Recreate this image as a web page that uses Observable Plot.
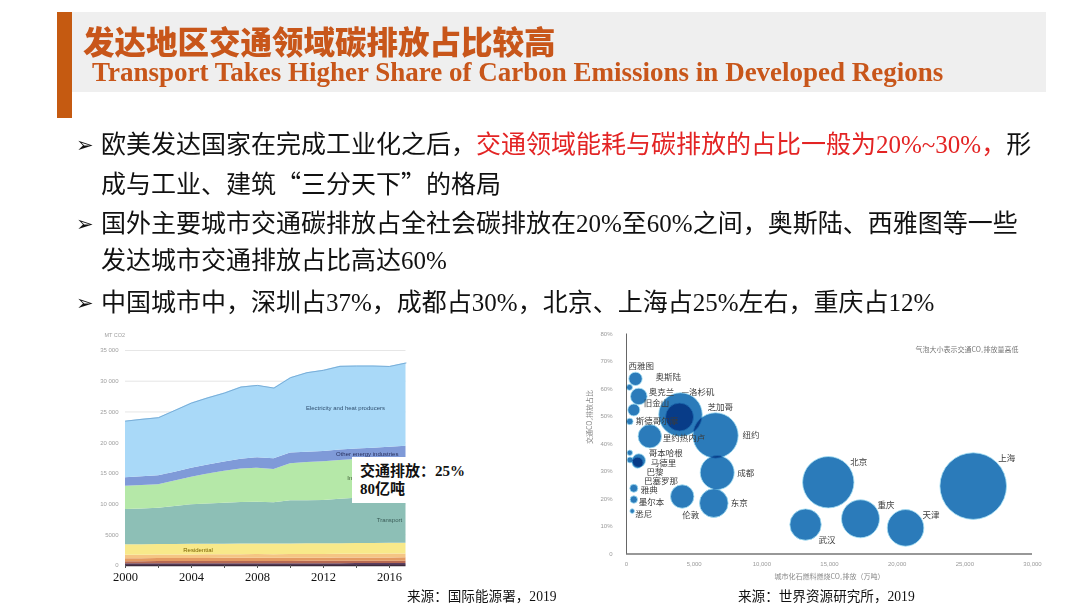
<!DOCTYPE html>
<html><head><meta charset="utf-8">
<script src="https://cdn.jsdelivr.net/npm/d3@7"></script>
<script src="https://cdn.jsdelivr.net/npm/@observablehq/plot@0.6"></script>
<style>
html,body{margin:0;padding:0;background:#fff;}
body{width:1080px;height:607px;position:relative;overflow:hidden;font-family:"Liberation Serif","Noto Sans CJK SC",serif;}
.abs{position:absolute;white-space:nowrap;}
#bar{left:57px;top:12px;width:15px;height:106px;background:#c55a11;}
#band{left:72px;top:12px;width:974px;height:80px;background:#efefef;}
#t1{left:83px;top:19px;font-family:"Noto Sans CJK SC";font-weight:900;font-size:31.5px;line-height:42px;color:#c8561a;}
#t2{left:92px;top:58px;font-family:"Liberation Serif";font-weight:bold;font-size:27px;line-height:28px;color:#c8561a;}
.line{left:101px;font-size:25px;line-height:30px;color:#111;}
.cjk{font-family:"Noto Sans CJK SC";}
.red{color:#e32424;}
.arrow{left:76px;font-family:"DejaVu Sans";font-size:21px;line-height:30px;color:#111;}
#note{left:352px;top:457px;width:118px;height:46px;background:#fff;padding:5px 0 0 8px;box-sizing:border-box;font-weight:bold;font-size:15px;line-height:18px;color:#111;}
.src{font-size:13.6px;line-height:20px;color:#111;}
</style>
</head><body>
<div class="abs" id="bar"></div>
<div class="abs" id="band"></div>
<div class="abs" id="t1">发达地区交通领域碳排放占比较高</div>
<div class="abs" id="t2">Transport Takes Higher Share of Carbon Emissions in Developed Regions</div>

<div class="abs arrow" style="top:130px">➢</div>
<div class="abs line" style="top:130px">欧美发达国家在完成工业化之后，<span class="red">交通领域能耗与碳排放的占比一般为20%~30%，</span>形</div>
<div class="abs line" style="top:167px">成与工业、建筑<span class="cjk">“</span>三分天下<span class="cjk">”</span>的格局</div>
<div class="abs arrow" style="top:209px">➢</div>
<div class="abs line" style="top:209px">国外主要城市交通碳排放占全社会碳排放在20%至60%之间，奥斯陆、西雅图等一些</div>
<div class="abs line" style="top:246px">发达城市交通排放占比高达60%</div>
<div class="abs arrow" style="top:288px">➢</div>
<div class="abs line" style="top:288px">中国城市中，深圳占37%，成都占30%，北京、上海占25%左右，重庆占12%</div>

<div class="abs" id="left" style="left:100px;top:325px"></div>
<div class="abs" id="right" style="left:580px;top:325px"></div>
<div class="abs" id="note">交通排放：25%<br>80亿吨</div>
<div class="abs src" style="left:407px;top:587px">来源：国际能源署，2019</div>
<div class="abs src" style="left:738px;top:587px">来源：世界资源研究所，2019</div>

<script>
// ---------- Left chart data (IEA, MtCO2) ----------
const years = [2000,2001,2002,2003,2004,2005,2006,2007,2008,2009,2010,2011,2012,2013,2014,2015,2016,2017];
const sectors = ["Final consumption n.e.s.","Fishing","Agriculture/forestry","Commercial and public services","Residential","Transport","Industry","Other energy industries","Electricity and heat producers"];
const finalNes    = [280,280,285,285,290,290,295,295,300,295,300,300,305,305,310,310,310,315];
const fishing     = [350,350,355,355,360,360,365,365,370,365,370,375,375,380,380,385,385,390];
const agriculture = [480,480,485,490,495,500,505,505,510,505,515,520,520,525,530,530,535,540];
const commercial  = [560,560,565,570,575,580,585,590,595,590,600,605,610,615,620,625,630,635];
const residential = [1700,1710,1710,1720,1730,1730,1720,1725,1725,1725,1735,1730,1730,1735,1740,1740,1750,1750];
const transport   = [5750,5820,5930,6180,6430,6540,6680,6770,6810,6730,7020,7030,7050,7220,7380,7440,7470,7500];
const industry    = [3800,3830,3810,4150,4500,4900,5210,5450,5540,5430,6030,6190,6300,6320,6310,6320,6320,6320];
const otherEnergy = [1370,1420,1470,1450,1470,1450,1470,1600,1690,1740,1730,1700,1680,1700,1680,1750,1870,1980];
const electricity = [9210,9350,9450,10050,10590,10950,11240,11750,11780,11500,12270,12940,13200,13620,13520,13370,13130,13530];
const sectorColors = ["#5e3f5f","#b86a52","#e39a62","#f5c584","#f8e98a","#8dbfb6","#b5e8a8","#7f9ad8","#a9d9f8"];
const leftYTicks = [0,5000,10000,15000,20000,25000,30000,35000];
const leftYTickLabels = ["0","5000","10 000","15 000","20 000","25 000","30 000","35 000"];
const leftTickYears = [2000,2002,2004,2006,2008,2010,2012,2014,2016];
const leftLabelYears = [2000,2004,2008,2012,2016];

const sectorValues = [finalNes,fishing,agriculture,commercial,residential,transport,industry,otherEnergy,electricity];
const tidy = sectors.flatMap((s,i)=>years.map((yr,j)=>({sector:s,year:yr,value:sectorValues[i][j]})));
const totals = years.map((yr,j)=>({year:yr,total:d3.sum(sectorValues,v=>v[j])}));

const areaLabels = [
  {text:"Electricity and heat producers", year:2013.33, value:25560, anchor:"middle", color:"#2f4f6f"},
  {text:"Other energy industries", year:2014.65, value:18180, anchor:"middle", color:"#27305e"},
  {text:"Industry", year:2013.44, value:14160, anchor:"start", color:"#3b5a32"},
  {text:"Transport", year:2016.77, value:7440, anchor:"end", color:"#3a5c57"},
  {text:"Residential", year:2003.5, value:2440, anchor:"start", color:"#7a6200"}
];

const left = Plot.plot({
  width:320, height:265,
  marginLeft:25, marginRight:14.5, marginTop:25, marginBottom:25,
  x:{domain:[2000,2017]},
  y:{domain:[0,35000]},
  color:{domain:sectors, range:sectorColors},
  style:{background:"transparent", overflow:"visible", fontFamily:"Liberation Sans, sans-serif", fontSize:"6px"},
  marks:[
    Plot.gridY(leftYTicks,{stroke:"#dcdcdc", strokeOpacity:0.7}),
    Plot.areaY(tidy,{x:"year", y:"value", z:"sector", fill:"sector"}),
    Plot.lineY(totals,{x:"year", y:"total", stroke:"#79aed8", strokeWidth:1}),
    ...areaLabels.map(l=>Plot.text([l],{x:"year", y:"value", text:"text", textAnchor:l.anchor, fontSize:6, fill:l.color})),
    Plot.axisY(leftYTicks,{tickSize:0, tickPadding:7, tickFormat:(d)=>leftYTickLabels[leftYTicks.indexOf(d)], fontSize:6, color:"#a0a0a0", label:null}),
    Plot.ruleY([0],{stroke:"#3a2a3a", strokeWidth:1.5}),
    Plot.axisX(leftTickYears,{tickSize:3, tickFormat:()=>"", color:"#555", label:null}),
    Plot.axisX(leftLabelYears,{tickSize:0, tickPadding:7, tickFormat:(d)=>String(d), fontSize:12.5, fontFamily:"Liberation Serif", color:"#111", label:null}),
    Plot.text(["MT CO2"],{frameAnchor:"top-left", dx:-21, dy:-17, textAnchor:"start", fontSize:5.5, fill:"#a0a0a0"})
  ]
});
document.getElementById("left").appendChild(left);

// ---------- Right chart data (WRI) ----------
const cities = ["西雅图","奥斯陆","奥克兰","洛杉矶","芝加哥","旧金山","斯德哥尔摩","里约热内卢","纽约","哥本哈根","马德里","巴黎","巴塞罗那","雅典","墨尔本","悉尼","伦敦","成都","东京","北京","武汉","重庆","天津","上海"];
const fossilCO2 = [665,220,909,3990,3920,540,244,1722,6578,244,909,813,259,540,540,421,4117,6704,6452,14910,13230,17290,20620,25620];
const transportShare = [0.637,0.606,0.573,0.507,0.498,0.524,0.482,0.428,0.431,0.368,0.340,0.332,0.342,0.239,0.198,0.156,0.209,0.296,0.185,0.261,0.107,0.128,0.095,0.247];
const transportCO2 = [256,51,393,2710,1119,205,62,781,2940,42,256,173,51,91,78,30,781,1650,1167,3770,1407,2060,1912,6330];
const rightXTicks = [0,5000,10000,15000,20000,25000,30000];
const rightYTicks = [0,0.1,0.2,0.3,0.4,0.5,0.6,0.7,0.8];

// label placement (pixel offsets from bubble centre)
const labelOffsets = {
  "西雅图":[-7,-13],"奥斯陆":[26,-10],"奥克兰":[10,-4],"洛杉矶":[1,-22],"芝加哥":[28,-10],
  "旧金山":[10,-7],"斯德哥尔摩":[6,0],"里约热内卢":[13,2],"纽约":[27,0],"哥本哈根":[19,0],
  "马德里":[12,3],"巴黎":[9,10],"巴塞罗那":[14,21],"雅典":[7,2],"墨尔本":[5,3],"悉尼":[3,3],
  "伦敦":[0,19],"成都":[20,1],"东京":[17,0],"北京":[22,-20],"武汉":[13,16],"重庆":[17,-14],
  "天津":[17,-13],"上海":[25,-28]
};
const cityRows = cities.map((c,i)=>({city:c, x:fossilCO2[i], y:transportShare[i], t:transportCO2[i]}));

const right = Plot.plot({
  width:470, height:270,
  marginLeft:46, marginRight:18, marginTop:8.5, marginBottom:41.5,
  x:{domain:[0,30000]},
  y:{domain:[0,0.8]},
  r:{range:[0,33.3]},
  style:{background:"transparent", overflow:"visible", fontFamily:"Liberation Sans, sans-serif", fontSize:"6px"},
  marks:[
    Plot.axisY(rightYTicks,{tickSize:0, tickPadding:14, tickFormat:(d)=>d===0?"0":Math.round(d*100)+"%", fontSize:6, color:"#9a9a9a", label:null}),
    Plot.axisX(rightXTicks,{tickSize:0, tickPadding:8, tickFormat:d3.format(","), fontSize:6, color:"#9a9a9a", label:null}),
    Plot.ruleX([0],{stroke:"#666", strokeWidth:1}),
    Plot.ruleY([0],{stroke:"#333", strokeWidth:1.2}),
    Plot.dot(cityRows,{x:"x", y:"y", r:"t", fill:"#2b7bba", stroke:"#a4e0f4", strokeWidth:0.8}),
    ...cityRows.map(d=>Plot.text([d],{x:"x", y:"y", text:(r)=>r.city==="洛杉矶"?"—洛杉矶":r.city, textAnchor:"start", dx:labelOffsets[d.city][0], dy:labelOffsets[d.city][1], fontSize:8.5, fontFamily:"Noto Sans CJK SC", fill:"#3c3c3c"})),
    Plot.text(["交通CO₂排放占比"],{frameAnchor:"left", dx:-37, rotate:-90, fontSize:7, fontFamily:"Noto Sans CJK SC", fill:"#888"}),
    Plot.text(["城市化石燃料燃烧CO₂排放（万吨）"],{frameAnchor:"bottom", dy:25, fontSize:7, fontFamily:"Noto Sans CJK SC", fill:"#888"}),
    Plot.text(["气泡大小表示交通CO₂排放量高低"],{frameAnchor:"top-right", dx:-14, dy:13, textAnchor:"end", fontSize:7, fontFamily:"Noto Sans CJK SC", fill:"#777"})
  ]
});
d3.select(right).selectAll("circle").style("mix-blend-mode","multiply");
document.getElementById("right").appendChild(right);
</script>
</body></html>
